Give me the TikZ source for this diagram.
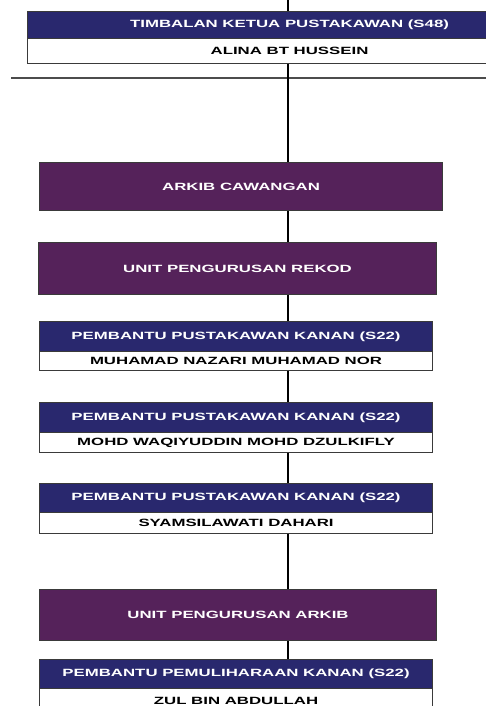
\documentclass[tikz,border=0pt]{standalone}
\usepackage{fontspec}
\newfontfamily\chartfont{Liberation Sans}[FakeStretch=1.6]
\definecolor{hdrnavy}{HTML}{29286E}
\definecolor{unitpurple}{HTML}{55225A}
\definecolor{boxedge}{HTML}{3A3A3A}
\tikzset{
  chartbox/.style={rectangle, draw=boxedge, line width=1.1pt, inner sep=0pt, anchor=north west,
    font=\chartfont\bfseries\fontsize{10.5}{12}\selectfont},
  hdrbox/.style={chartbox, fill=hdrnavy, text=white},
  namebox/.style={chartbox, fill=white, text=black},
  unitbox/.style={chartbox, fill=unitpurple, text=white},
  conn/.style={draw=black, line width=2pt},
  rule/.style={draw=black!70, line width=1.5pt}
}
\begin{document}
\begin{tikzpicture}[x=1pt, y=-1pt]
\useasboundingbox (0,0) rectangle (486,706);
\clip (0,0) rectangle (486,706);

% spine of the chart and the horizontal divider
\coordinate (spine) at (288,0);
\coordinate (spineend) at (288,706);
\coordinate (hl) at (11,78);
\coordinate (hr) at (486,78);

% deputy chief librarian
\node[hdrbox, minimum width=524pt, minimum height=27pt] (tophdr) at (27,11) {TIMBALAN KETUA PUSTAKAWAN (S48)};
\node[namebox, minimum width=524pt, minimum height=25pt] (topname) at (27,38) {ALINA BT HUSSEIN};

% units
\node[unitbox, minimum width=403pt, minimum height=48pt] (arkib) at (39,162) {ARKIB CAWANGAN};
\node[unitbox, minimum width=398pt, minimum height=52pt] (rekod) at (38,242) {UNIT PENGURUSAN REKOD};

% staff of the records unit
\node[hdrbox, minimum width=393pt, minimum height=30pt] (s1hdr) at (39,321) {PEMBANTU PUSTAKAWAN KANAN (S22)};
\node[namebox, minimum width=393pt, minimum height=19pt] (s1name) at (39,351) {MUHAMAD NAZARI MUHAMAD NOR};
\node[hdrbox, minimum width=393pt, minimum height=30pt] (s2hdr) at (39,402) {PEMBANTU PUSTAKAWAN KANAN (S22)};
\node[namebox, minimum width=393pt, minimum height=20pt] (s2name) at (39,432) {MOHD WAQIYUDDIN MOHD DZULKIFLY};
\node[hdrbox, minimum width=393pt, minimum height=29pt] (s3hdr) at (39,483) {PEMBANTU PUSTAKAWAN KANAN (S22)};
\node[namebox, minimum width=393pt, minimum height=21pt] (s3name) at (39,512) {SYAMSILAWATI DAHARI};

% archive unit
\node[unitbox, minimum width=397pt, minimum height=51pt] (unitarkib) at (39,589) {UNIT PENGURUSAN ARKIB};
\node[hdrbox, minimum width=393pt, minimum height=29pt] (s4hdr) at (39,659) {PEMBANTU PEMULIHARAAN KANAN (S22)};
\node[namebox, minimum width=393pt, minimum height=24pt] (s4name) at (39,688) {ZUL BIN ABDULLAH};

% connectors
\draw[rule] (hl) -- (hr);
\draw[conn] (spine) -- (tophdr.north -| spine);
\draw[conn] (topname.south -| spine) -- (arkib.north -| spine);
\draw[conn] (arkib.south -| spine) -- (rekod.north -| spine);
\draw[conn] (rekod.south -| spine) -- (s1hdr.north -| spine);
\draw[conn] (s1name.south -| spine) -- (s2hdr.north -| spine);
\draw[conn] (s2name.south -| spine) -- (s3hdr.north -| spine);
\draw[conn] (s3name.south -| spine) -- (unitarkib.north -| spine);
\draw[conn] (unitarkib.south -| spine) -- (s4hdr.north -| spine);
\end{tikzpicture}
\end{document}
